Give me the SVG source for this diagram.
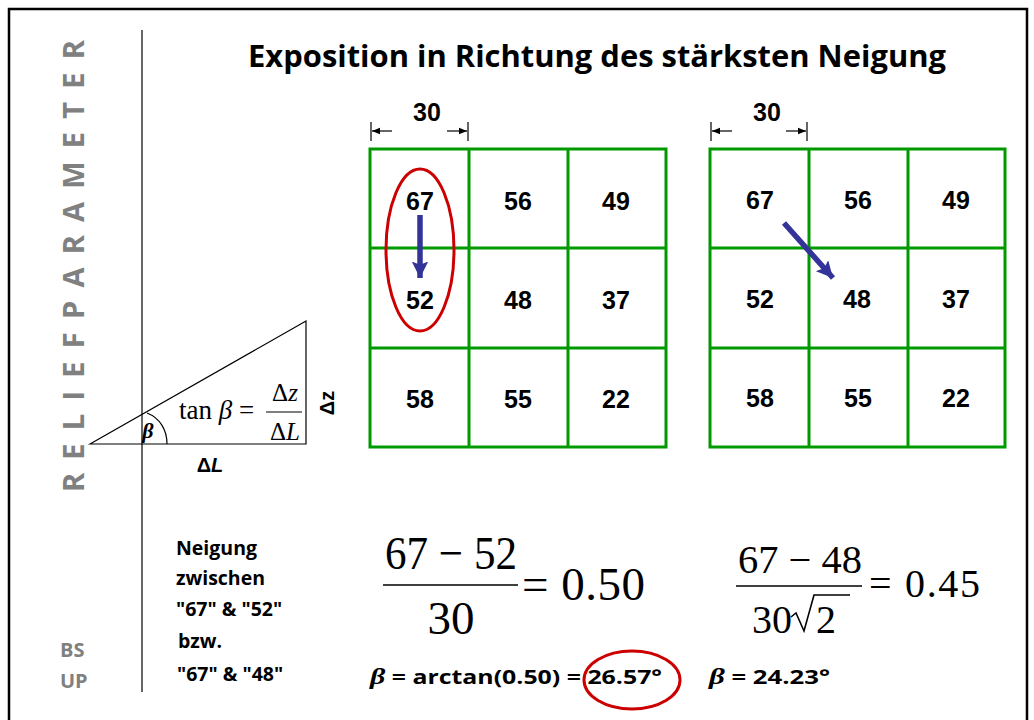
<svg xmlns="http://www.w3.org/2000/svg" width="1034" height="720" viewBox="0 0 1034 720">
<style>
.grid{fill:none;stroke:#009900;stroke-width:3}
.num{font-family:"Liberation Sans",Arial,sans-serif;font-weight:bold;font-size:25px;fill:#000;text-anchor:middle}
.serif{font-family:"Liberation Serif","Times New Roman",serif;fill:#000}
.lbl{font-family:"Open Sans","DejaVu Sans",sans-serif;font-weight:bold;font-size:19.5px;fill:#000}
.gray{font-family:"Open Sans","DejaVu Sans",sans-serif;font-weight:bold;fill:#808080}
.thin{stroke:#000;stroke-width:1.2;fill:none}
.red{fill:none;stroke:#cc0000;stroke-width:3}
.res{font-family:"Open Sans","DejaVu Sans",sans-serif;font-weight:bold;font-size:20px;fill:#000}
</style>
<defs>
<marker id="dim" viewBox="0 0 10 10" refX="10" refY="5" markerWidth="10" markerHeight="8" markerUnits="userSpaceOnUse" orient="auto"><path d="M0,1 L10,5 L0,9 z" fill="#000"/></marker>
<marker id="blue" viewBox="0 0 10 10" refX="10" refY="5" markerWidth="3" markerHeight="3" orient="auto"><path d="M0,0 L10,5 L0,10 L2,5 z" fill="#333399"/></marker>
</defs>
<rect width="1034" height="720" fill="#fff"/>
<path d="M9,720 V9 H1027 V720" fill="none" stroke="#000" stroke-width="2.5"/>

<g id="sidebar">
<text class="gray" font-size="29" textLength="452" lengthAdjust="spacing" transform="translate(84,492) rotate(-90)">RELIEFPARAMETER</text>
<line x1="142" y1="30" x2="142" y2="692" stroke="#000" stroke-width="1.2"/>
<text class="gray" font-size="20" x="60" y="657">BS</text>
<text class="gray" font-size="20" x="60" y="688">UP</text>
</g>

<g id="title">
<text x="597" y="67" text-anchor="middle" font-family="Open Sans,DejaVu Sans,sans-serif" font-weight="bold" font-size="31" textLength="698" lengthAdjust="spacingAndGlyphs">Exposition in Richtung des stärksten Neigung</text>
</g>

<g id="triangle">
<path class="thin" d="M90,444 L306,321 L306,444 Z"/>
<path class="thin" d="M147,413 C160,418 167,430 167,444"/>
<text x="148" y="438" font-family="Liberation Serif,serif" font-style="italic" font-weight="bold" font-size="22" text-anchor="middle">β</text>
<text class="serif" x="179" y="419" font-size="27">tan <tspan font-style="italic">β</tspan> =</text>
<text class="serif" x="285" y="401" font-size="25" text-anchor="middle">Δ<tspan font-style="italic">z</tspan></text>
<line x1="266" y1="412" x2="302" y2="412" stroke="#000" stroke-width="1"/>
<text class="serif" x="285" y="440" font-size="25" text-anchor="middle">Δ<tspan font-style="italic">L</tspan></text>
<text transform="translate(334,403) rotate(-90)" text-anchor="middle" font-family="Liberation Sans,sans-serif" font-weight="bold" font-size="20">Δz</text>
<text x="210" y="472" text-anchor="middle" font-family="Liberation Sans,sans-serif" font-weight="bold" font-size="20">Δ<tspan font-style="italic">L</tspan></text>
</g>

<g id="grid1">
<rect class="grid" x="370" y="149" width="296" height="298"/>
<path class="grid" d="M469,149 V447 M568,149 V447 M370,248 H666 M370,348 H666"/>
<text class="num" x="420" y="210">67</text><text class="num" x="518" y="210">56</text><text class="num" x="616" y="210">49</text>
<text class="num" x="420" y="309">52</text><text class="num" x="518" y="309">48</text><text class="num" x="616" y="309">37</text>
<text class="num" x="420" y="408">58</text><text class="num" x="518" y="408">55</text><text class="num" x="616" y="408">22</text>
<text class="num" x="427" y="121">30</text>
<path class="thin" d="M371,122 V141 M468,122 V141"/>
<line x1="392" y1="131" x2="372" y2="131" class="thin" marker-end="url(#dim)"/>
<line x1="447" y1="131" x2="467" y2="131" class="thin" marker-end="url(#dim)"/>
<ellipse class="red" cx="420" cy="250" rx="34" ry="81"/>
</g>

<g id="grid2">
<rect class="grid" x="710" y="149" width="295" height="298"/>
<path class="grid" d="M809,149 V447 M908,149 V447 M710,248 H1005 M710,348 H1005"/>
<text class="num" x="760" y="209">67</text><text class="num" x="858" y="209">56</text><text class="num" x="956" y="209">49</text>
<text class="num" x="760" y="308">52</text><text class="num" x="857" y="308">48</text><text class="num" x="956" y="308">37</text>
<text class="num" x="760" y="407">58</text><text class="num" x="858" y="407">55</text><text class="num" x="956" y="407">22</text>
<text class="num" x="767" y="121">30</text>
<path class="thin" d="M711,122 V141 M807,122 V141"/>
<line x1="732" y1="131" x2="712" y2="131" class="thin" marker-end="url(#dim)"/>
<line x1="786" y1="131" x2="806" y2="131" class="thin" marker-end="url(#dim)"/>
</g>

<g id="connectors">
<line x1="420" y1="215" x2="420" y2="278" stroke="#333399" stroke-width="5.5" marker-end="url(#blue)"/>
<line x1="784" y1="223" x2="833" y2="278" stroke="#333399" stroke-width="5.5" marker-end="url(#blue)"/>
</g>

<g id="notes">
<text class="lbl" x="176" y="555">Neigung</text>
<text class="lbl" x="176" y="585">zwischen</text>
<text class="lbl" x="176" y="616">"67" &amp; "52"</text>
<text class="lbl" x="178" y="648">bzw.</text>
<text class="lbl" x="177" y="681">"67" &amp; "48"</text>
</g>

<g id="formula1">
<text class="serif" x="385" y="569" font-size="47" textLength="132" lengthAdjust="spacingAndGlyphs">67 − 52</text>
<line x1="383" y1="585" x2="518" y2="585" stroke="#000" stroke-width="1.5"/>
<text class="serif" x="451" y="634" font-size="47" text-anchor="middle">30</text>
<text class="serif" x="522" y="600" font-size="47" textLength="123">= 0.50</text>
<text class="res" x="370" y="684" textLength="292" lengthAdjust="spacingAndGlyphs"><tspan font-family="Liberation Serif,serif" font-style="italic" font-size="24">β</tspan> = arctan(0.50) = 26.57°</text>
<ellipse class="red" cx="632" cy="680" rx="48" ry="29"/>
</g>

<g id="formula2">
<text class="serif" x="738" y="573" font-size="40" textLength="124" lengthAdjust="spacingAndGlyphs">67 − 48</text>
<line x1="736" y1="586" x2="862" y2="586" stroke="#000" stroke-width="1.5"/>
<text class="serif" x="752" y="633" font-size="40">30</text>
<path d="M791,617 L796,613 L804,631 L814,595 H850" fill="none" stroke="#000" stroke-width="1.6"/>
<text class="serif" x="816" y="633" font-size="40">2</text>
<text class="serif" x="869" y="597" font-size="40" textLength="111">= 0.45</text>
<text class="res" x="709" y="684" textLength="121" lengthAdjust="spacingAndGlyphs"><tspan font-family="Liberation Serif,serif" font-style="italic" font-size="24">β</tspan> = 24.23°</text>
</g>
</svg>
